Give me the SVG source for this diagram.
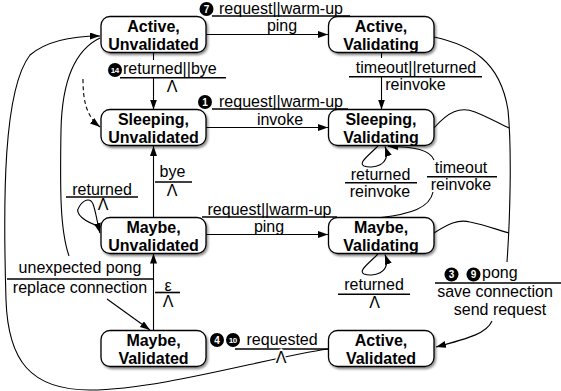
<svg xmlns="http://www.w3.org/2000/svg" width="561" height="391" viewBox="0 0 561 391">
<style>
.box{fill:#fff;stroke:#000;stroke-width:1.3;filter:url(#sh)}
.n{font-family:"Liberation Sans",Arial,Helvetica,sans-serif;font-weight:bold;font-size:16px;text-anchor:middle;fill:#000}
.l{font-family:"Liberation Sans",Arial,Helvetica,sans-serif;font-size:16px;text-anchor:middle;fill:#000}
.ls{text-anchor:start}
.e{fill:none;stroke:#000;stroke-width:1.1}
.a{marker-end:url(#ah)}
.bar{stroke:#000;stroke-width:1.6}
.dot{fill:#000}
.cn{font-family:"Liberation Sans",Arial,Helvetica,sans-serif;font-weight:bold;font-size:10px;text-anchor:middle;fill:#fff}
.cs{font-size:8px;letter-spacing:-0.6px}
.wb{stroke:#fff;stroke-width:3;paint-order:stroke}
</style>
<defs>
<filter id="sh" x="-10%" y="-10%" width="130%" height="140%"><feDropShadow dx="1.5" dy="2" stdDeviation="1.2" flood-color="#000" flood-opacity="0.45"/></filter>
<marker id="ah" markerUnits="userSpaceOnUse" markerWidth="11" markerHeight="8" refX="10" refY="3.5" orient="auto"><path d="M0,0 L10,3.5 L0,7 z" fill="#000"/></marker>
</defs>

<g id="connectors">
<!-- Active,Unvalidated -> Active,Validating -->
<line class="e a" x1="206" y1="34.5" x2="328" y2="34.5"/>
<line class="bar" x1="212" y1="16" x2="350" y2="16"/>
<circle class="dot" cx="206.5" cy="9" r="7"/><text class="cn" x="206.5" y="12.6">7</text>
<text class="l" x="281" y="13.5">request||warm-up</text>
<text class="l" x="282" y="31">ping</text>

<!-- Active,Unvalidated -> Sleeping,Unvalidated -->
<line class="e" x1="153.5" y1="52.5" x2="153.5" y2="60"/>
<line class="e a" x1="153.5" y1="77.7" x2="153.5" y2="109.5"/>
<line class="bar" x1="120" y1="77.7" x2="226" y2="77.7"/>
<circle class="dot" cx="115" cy="70" r="7"/><text class="cn cs" x="114.7" y="72.9">14</text>
<text class="l ls" x="123" y="74">returned||bye</text>
<text class="l" x="172" y="92">Λ</text>

<!-- dashed initial arrow -->
<path class="e a" stroke-dasharray="4,3" d="M83,79 C83,100 86,116 100,127"/>

<!-- Active,Validating -> Sleeping,Validating -->
<line class="e" x1="381.5" y1="52.5" x2="381.5" y2="58"/>
<line class="e a" x1="381.5" y1="76.7" x2="381.5" y2="109.5"/>
<line class="bar" x1="349" y1="76.7" x2="482" y2="76.7"/>
<text class="l" x="416" y="73">timeout||returned</text>
<text class="l" x="415.5" y="90">reinvoke</text>

<!-- Sleeping,Unvalidated -> Sleeping,Validating -->
<line class="e a" x1="206" y1="127.5" x2="328" y2="127.5"/>
<line class="bar" x1="212" y1="109" x2="348" y2="109"/>
<circle class="dot" cx="205" cy="102" r="7"/><text class="cn" x="205" y="105.6">1</text>
<text class="l" x="281" y="106.5">request||warm-up</text>
<text class="l" x="280" y="124.5">invoke</text>

<!-- Sleeping,Validating self loop -->
<path class="e a" d="M378,146 C368,156 358,163 364,166 C372,169 392,166 385,146.5"/>
<line class="bar" x1="345" y1="182.7" x2="417" y2="182.7"/>
<text class="l" x="380.5" y="180">returned</text>
<text class="l" x="380" y="197">reinvoke</text>

<!-- timeout / reinvoke: Maybe,Validating -> Sleeping,Validating -->
<path class="e" d="M381,217.5 C410,214 430,208 433,192"/>
<path class="e a" d="M434,160 C430,150 415,146.5 388,146.5"/>
<line class="bar" x1="427" y1="176.7" x2="497" y2="176.7"/>
<text class="l" x="461" y="173.3">timeout</text>
<text class="l" x="461" y="190">reinvoke</text>

<!-- Maybe,Unvalidated -> Sleeping,Unvalidated (bye) -->
<line class="e a" x1="153.5" y1="217.5" x2="153.5" y2="146"/>
<line class="bar" x1="155" y1="182" x2="192" y2="182"/>
<text class="l" x="172.5" y="177">bye</text>
<text class="l" x="172" y="195.5">Λ</text>

<!-- Maybe,Unvalidated self loop -->
<path class="e a" d="M101,227 C85,222 74,214 79,207 C83,200 90,197 93,204 C96,212 97,222 100,233"/>
<line class="bar" x1="66" y1="197" x2="138" y2="197"/>
<text class="l" x="102" y="194.5">returned</text>
<text class="l" x="103" y="210">Λ</text>

<!-- Maybe,Unvalidated -> Maybe,Validating -->
<line class="e a" x1="206" y1="234.5" x2="328" y2="234.5"/>
<line class="bar" x1="202" y1="217" x2="337" y2="217"/>
<text class="l" x="269.5" y="214.5">request||warm-up</text>
<text class="l" x="269" y="231.5">ping</text>

<!-- Maybe,Validating self loop -->
<path class="e a" d="M378,254 C368,264 358,271 364,274 C372,277 392,274 385,254.5"/>
<line class="bar" x1="338" y1="294.3" x2="410" y2="294.3"/>
<text class="l" x="374" y="290">returned</text>
<text class="l" x="374.5" y="308">Λ</text>

<!-- Maybe,Validated -> Maybe,Unvalidated (epsilon) -->
<line class="e a" x1="153.5" y1="330.5" x2="153.5" y2="253.5"/>
<line class="bar" x1="155" y1="292.5" x2="180" y2="292.5"/>
<text class="l" x="168" y="291">ε</text>
<text class="l" x="168" y="307">Λ</text>

<!-- unexpected pong: Active,Unvalidated -> Maybe,Validated -->
<path class="e" d="M100,38 C75,50 62,80 61,130 C60,190 60,230 69,256"/>
<line class="bar" x1="7" y1="279" x2="153" y2="279"/>
<text class="l" x="80" y="273">unexpected pong</text>
<text class="l" x="80" y="293">replace connection</text>
<line class="e a" x1="107" y1="299" x2="150" y2="330"/>

<!-- pong: Active/Sleeping/Maybe,Validating -> Active,Validated -->
<path class="e" d="M434,37 C470,45 500,60 508,110 C512,150 510,220 507,262"/>
<path class="e" d="M434,128 C448,112 460,106 475,112 C490,118 500,124 509,128"/>
<path class="e" d="M434,233 C448,224 458,219 470,222 C485,225 498,230 509,233"/>
<path class="e a" d="M492,321 C487,333 470,338 436,347"/>
<line class="bar" x1="435" y1="283" x2="561" y2="283"/>
<circle class="dot" cx="451.5" cy="274.5" r="7"/><text class="cn" x="451.5" y="278.1">3</text>
<circle class="dot" cx="473.5" cy="274.5" r="7"/><text class="cn" x="473.5" y="278.1">9</text>
<text class="l ls" x="482" y="278">pong</text>
<text class="l" x="495" y="297">save connection</text>
<text class="l" x="500" y="315">send request</text>

<!-- requested: Active,Validated -> Active,Unvalidated -->
<path class="e a" d="M328,349 C270,357 160,390 90,390 C30,390 8,360 6,300 C3,200 3,90 30,55 C50,38 80,36 100,36"/>
<line class="bar" x1="235" y1="349" x2="328" y2="349"/>
<circle class="dot" cx="217" cy="340" r="7"/><text class="cn" x="217" y="343.6">4</text>
<circle class="dot" cx="233" cy="340" r="7"/><text class="cn cs" x="232.7" y="342.9">10</text>
<text class="l ls" x="246.5" y="345">requested</text>
<text class="l wb" x="281" y="363">Λ</text>
</g>

<g id="n-active-unvalidated">
<rect class="box" x="101" y="16.5" width="105" height="36" rx="9"/>
<text class="n" x="153.5" y="32">Active,</text>
<text class="n" x="153.5" y="49.5">Unvalidated</text>
</g>
<g id="n-sleeping-unvalidated">
<rect class="box" x="101" y="109.5" width="105" height="36" rx="9"/>
<text class="n" x="153.5" y="125">Sleeping,</text>
<text class="n" x="153.5" y="142.5">Unvalidated</text>
</g>
<g id="n-maybe-unvalidated">
<rect class="box" x="101" y="217.5" width="105" height="36" rx="9"/>
<text class="n" x="153.5" y="233">Maybe,</text>
<text class="n" x="153.5" y="250.5">Unvalidated</text>
</g>
<g id="n-maybe-validated">
<rect class="box" x="101" y="330.5" width="105" height="36" rx="9"/>
<text class="n" x="153.5" y="346">Maybe,</text>
<text class="n" x="153.5" y="363.5">Validated</text>
</g>
<g id="n-active-validating">
<rect class="box" x="328.5" y="16.5" width="105.5" height="36" rx="9"/>
<text class="n" x="381" y="32">Active,</text>
<text class="n" x="381" y="49.5">Validating</text>
</g>
<g id="n-sleeping-validating">
<rect class="box" x="328.5" y="109.5" width="105.5" height="36" rx="9"/>
<text class="n" x="381" y="125">Sleeping,</text>
<text class="n" x="381" y="142.5">Validating</text>
</g>
<g id="n-maybe-validating">
<rect class="box" x="328.5" y="217.5" width="105.5" height="36" rx="9"/>
<text class="n" x="381" y="233">Maybe,</text>
<text class="n" x="381" y="250.5">Validating</text>
</g>
<g id="n-active-validated">
<rect class="box" x="328.5" y="330.5" width="105.5" height="36" rx="9"/>
<text class="n" x="381" y="346">Active,</text>
<text class="n" x="381" y="363.5">Validated</text>
</g>
</svg>
